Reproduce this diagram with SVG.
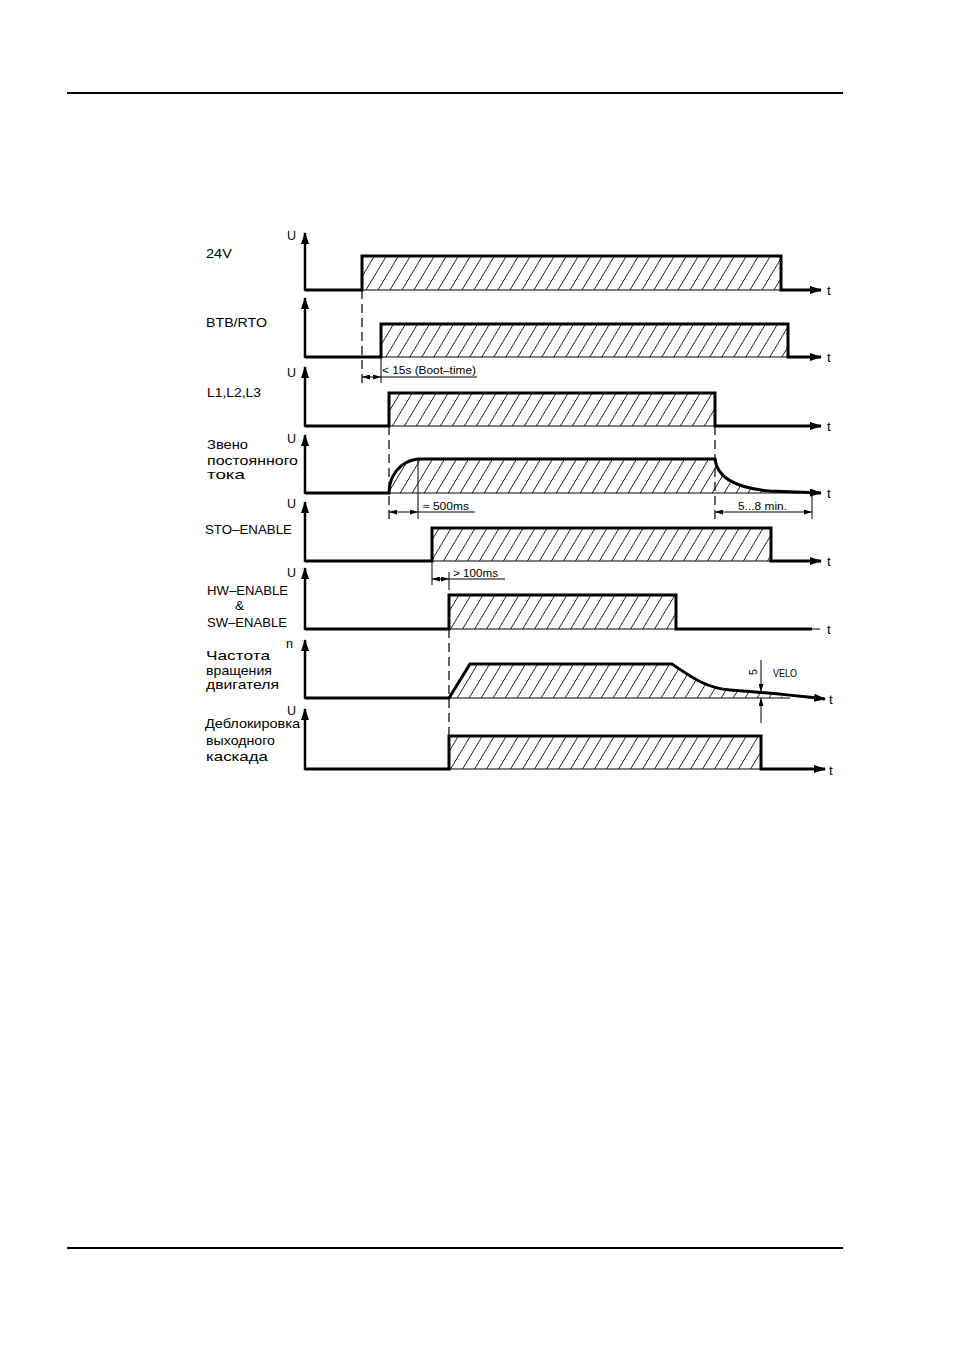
<svg xmlns="http://www.w3.org/2000/svg" width="955" height="1350" viewBox="0 0 955 1350">
<style>
.sig{fill:none;stroke:#000;stroke-width:3;stroke-linejoin:miter}
.ax{fill:none;stroke:#000;stroke-width:2.5}
.thin{fill:none;stroke:#000;stroke-width:1}
.dash{fill:none;stroke:#000;stroke-width:1.2;stroke-dasharray:9 5}
.hat{fill:url(#hp);stroke:none}
.lbl{font-family:"Liberation Sans",Arial,sans-serif;font-size:13.5px;fill:#000}
.ax-l{font-family:"Liberation Sans",Arial,sans-serif;font-size:12.5px;fill:#000}
.sm{font-family:"Liberation Sans",Arial,sans-serif;font-size:10.5px;fill:#000}
.rule{stroke:#000;stroke-width:2}
</style>
<defs>
<pattern id="hp" patternUnits="userSpaceOnUse" width="12" height="20">
<path d="M-12,20 L0,0 M0,20 L12,0 M12,20 L24,0" stroke="#222" stroke-width="1" fill="none"/>
</pattern>
<marker id="ah" markerUnits="userSpaceOnUse" markerWidth="12" markerHeight="8" refX="11" refY="4" orient="auto">
<path d="M0,0 L12,4 L0,8 Z" fill="#000"/>
</marker>
<marker id="da" markerUnits="userSpaceOnUse" markerWidth="8" markerHeight="5" refX="8" refY="2.5" orient="auto-start-reverse">
<path d="M0,0 L8,2.5 L0,5 Z" fill="#000"/>
</marker>
</defs>
<rect width="955" height="1350" fill="#fff"/>
<line class="rule" x1="67" y1="93" x2="843" y2="93"/>
<line class="rule" x1="67" y1="1248" x2="843" y2="1248"/>

<g id="row-24v">
<rect class="hat" x="362" y="256" width="419" height="34"/>
<line class="thin" x1="362" y1="290" x2="781" y2="290"/>
<path class="ax" d="M305,291 V233" marker-end="url(#ah)"/>
<path class="sig" d="M305,290 H362 V256 H781 V290 H821" marker-end="url(#ah)"/>
<text class="ax-l" x="287" y="240">U</text>
<text class="lbl" x="206" y="258" textLength="26" lengthAdjust="spacingAndGlyphs">24V</text>
<text class="lbl" x="827" y="295">t</text>
</g>

<g id="row-btb">
<rect class="hat" x="381" y="324" width="407" height="33"/>
<line class="thin" x1="381" y1="357" x2="788" y2="357"/>
<path class="ax" d="M305,358 V298" marker-end="url(#ah)"/>
<path class="sig" d="M305,357 H381 V324 H788 V357 H821" marker-end="url(#ah)"/>
<text class="lbl" x="206" y="327" textLength="61" lengthAdjust="spacingAndGlyphs">BTB/RTO</text>
<text class="lbl" x="827" y="362">t</text>
</g>

<g id="row-l123">
<rect class="hat" x="389" y="393" width="326" height="33"/>
<line class="thin" x1="389" y1="426" x2="715" y2="426"/>
<path class="ax" d="M305,427 V367" marker-end="url(#ah)"/>
<path class="sig" d="M305,426 H389 V393 H715 V426 H821" marker-end="url(#ah)"/>
<text class="ax-l" x="287" y="377">U</text>
<text class="lbl" x="207" y="397" textLength="54" lengthAdjust="spacingAndGlyphs">L1,L2,L3</text>
<text class="lbl" x="827" y="431">t</text>
</g>

<g id="row-dc">
<path class="hat" d="M389,493 C389,476 400,461 418,459 H715 C717,478 735,488 770,491 L800,493 Z"/>
<line class="thin" x1="389" y1="493" x2="800" y2="493"/>
<path class="ax" d="M305,494 V435" marker-end="url(#ah)"/>
<path class="sig" d="M305,493 H389 C389,476 400,461 418,459 H715 C717,478 735,488 770,491 L821,493" marker-end="url(#ah)"/>
<text class="ax-l" x="287" y="443">U</text>
<text class="lbl" x="207" y="449" textLength="41" lengthAdjust="spacingAndGlyphs">Звено</text>
<text class="lbl" x="207" y="465" textLength="91" lengthAdjust="spacingAndGlyphs">постоянного</text>
<text class="lbl" x="207" y="479" textLength="38" lengthAdjust="spacingAndGlyphs">тока</text>
<text class="lbl" x="827" y="498">t</text>
</g>

<g id="row-sto">
<rect class="hat" x="432" y="528" width="339" height="33"/>
<line class="thin" x1="432" y1="561" x2="771" y2="561"/>
<path class="ax" d="M305,562 V502" marker-end="url(#ah)"/>
<path class="sig" d="M305,561 H432 V528 H771 V561 H821" marker-end="url(#ah)"/>
<text class="ax-l" x="287" y="508">U</text>
<text class="lbl" x="205" y="534" textLength="87" lengthAdjust="spacingAndGlyphs">STO–ENABLE</text>
<text class="lbl" x="827" y="566">t</text>
</g>

<g id="row-hwsw">
<rect class="hat" x="449" y="595" width="227" height="34"/>
<line class="thin" x1="449" y1="629" x2="676" y2="629"/>
<path class="ax" d="M305,630 V568" marker-end="url(#ah)"/>
<path class="sig" d="M305,629 H449 V595 H676 V629 H812"/>
<line class="thin" x1="812" y1="629" x2="820" y2="629"/>
<text class="ax-l" x="287" y="577">U</text>
<text class="lbl" x="207" y="595" textLength="81" lengthAdjust="spacingAndGlyphs">HW–ENABLE</text>
<text class="lbl" x="235" y="610">&amp;</text>
<text class="lbl" x="207" y="627" textLength="80" lengthAdjust="spacingAndGlyphs">SW–ENABLE</text>
<text class="lbl" x="827" y="634">t</text>
</g>

<g id="row-speed">
<path class="hat" d="M449,698 L470,664 H672 C690,676 705,688 730,690 C750,692 770,694 790,698 Z"/>
<line class="thin" x1="449" y1="698" x2="790" y2="698"/>
<path class="ax" d="M305,699 V640" marker-end="url(#ah)"/>
<path class="sig" d="M305,698 H449 L470,664 H672 C690,676 705,688 730,690 C760,692 790,695 825,699" marker-end="url(#ah)"/>
<text class="ax-l" x="286" y="648">n</text>
<text class="lbl" x="206" y="660" textLength="64" lengthAdjust="spacingAndGlyphs">Частота</text>
<text class="lbl" x="206" y="675" textLength="66" lengthAdjust="spacingAndGlyphs">вращения</text>
<text class="lbl" x="206" y="689" textLength="73" lengthAdjust="spacingAndGlyphs">двигателя</text>
<text class="lbl" x="829" y="704">t</text>
<line class="thin" x1="761" y1="660" x2="761" y2="692" marker-end="url(#da)"/>
<line class="thin" x1="761" y1="723" x2="761" y2="698" marker-end="url(#da)"/>
<text class="sm" transform="translate(757,675) rotate(-90)">5</text>
<text class="sm" x="773" y="677" textLength="24" lengthAdjust="spacingAndGlyphs">VELO</text>
</g>

<g id="row-output">
<rect class="hat" x="449" y="736" width="312" height="33"/>
<line class="thin" x1="449" y1="769" x2="761" y2="769"/>
<path class="ax" d="M305,770 V709" marker-end="url(#ah)"/>
<path class="sig" d="M305,769 H449 V736 H761 V769 H825" marker-end="url(#ah)"/>
<text class="ax-l" x="287" y="715">U</text>
<text class="lbl" x="205" y="728" textLength="95" lengthAdjust="spacingAndGlyphs">Деблокировка</text>
<text class="lbl" x="206" y="745" textLength="69" lengthAdjust="spacingAndGlyphs">выходного</text>
<text class="lbl" x="206" y="761" textLength="62" lengthAdjust="spacingAndGlyphs">каскада</text>
<text class="lbl" x="829" y="775">t</text>
</g>

<g id="connectors">
<line class="dash" x1="362" y1="290" x2="362" y2="383"/>
<line class="thin" x1="381" y1="357" x2="381" y2="383"/>
<line class="thin" x1="381" y1="377" x2="477" y2="377"/>
<line class="thin" x1="362" y1="377" x2="381" y2="377" marker-start="url(#da)" marker-end="url(#da)"/>
<text class="sm" x="382" y="374" textLength="94" lengthAdjust="spacingAndGlyphs">&lt; 15s (Boot–time)</text>

<line class="dash" x1="389" y1="426" x2="389" y2="519"/>
<line class="thin" x1="418" y1="460" x2="418" y2="519"/>
<line class="thin" x1="389" y1="512" x2="418" y2="512" marker-start="url(#da)" marker-end="url(#da)"/>
<line class="thin" x1="418" y1="512" x2="475" y2="512"/>
<text class="sm" x="423" y="510" textLength="46" lengthAdjust="spacingAndGlyphs">≈ 500ms</text>

<line class="dash" x1="715" y1="426" x2="715" y2="519"/>
<line class="thin" x1="812" y1="493" x2="812" y2="519"/>
<line class="thin" x1="715" y1="512" x2="812" y2="512" marker-start="url(#da)" marker-end="url(#da)"/>
<text class="sm" x="738" y="510" textLength="49" lengthAdjust="spacingAndGlyphs">5...8 min.</text>

<line class="thin" x1="432" y1="561" x2="432" y2="585"/>
<line class="thin" x1="449" y1="572" x2="449" y2="590"/>
<line class="thin" x1="432" y1="579" x2="449" y2="579" marker-start="url(#da)" marker-end="url(#da)"/>
<line class="thin" x1="449" y1="579" x2="505" y2="579"/>
<text class="sm" x="453" y="577" textLength="45" lengthAdjust="spacingAndGlyphs">&gt; 100ms</text>

<line class="dash" x1="449" y1="629" x2="449" y2="769"/>
</g>
</svg>
